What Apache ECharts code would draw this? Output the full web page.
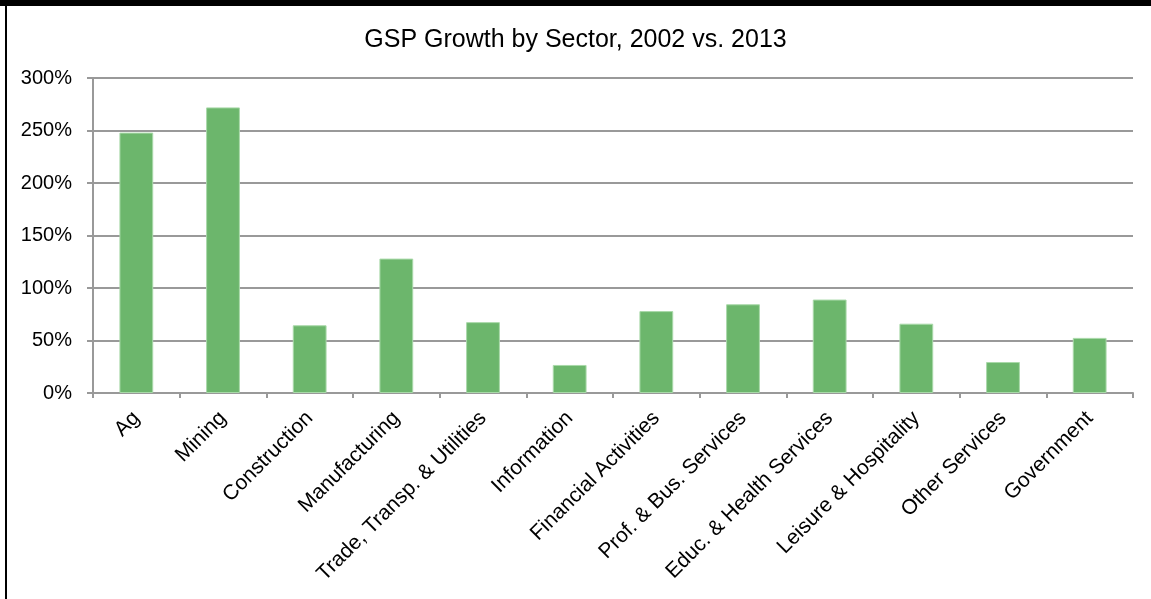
<!DOCTYPE html>
<html>
<head>
<meta charset="utf-8">
<script src="https://cdn.jsdelivr.net/npm/echarts@6/dist/echarts.min.js"></script>
<style>
  html, body { margin: 0; padding: 0; background: #fff; }
  #chart { width: 1151px; height: 599px; }
</style>
</head>
<body>
<div id="chart"></div>
<script>
const title = 'GSP Growth by Sector, 2002 vs. 2013';
const categories = ['Ag', 'Mining', 'Construction', 'Manufacturing', 'Trade, Transp. & Utilities',
  'Information', 'Financial Activities', 'Prof. & Bus. Services', 'Educ. & Health Services',
  'Leisure & Hospitality', 'Other Services', 'Government'];
const growthPct = [248, 272, 64.5, 128, 67.5, 26.7, 78, 84.5, 89, 66, 29.5, 52.5];
const yTicks = [0, 50, 100, 150, 200, 250, 300];

const chart = echarts.init(document.getElementById('chart'), null, { renderer: 'canvas' });
chart.setOption({
  animation: false,
  backgroundColor: '#ffffff',
  title: {
    text: title,
    left: 'center',
    top: 23,
    textStyle: { fontFamily: 'Liberation Sans', fontSize: 25, fontWeight: 'normal', color: '#000' }
  },
  graphic: [
    { type: 'rect', shape: { x: 0, y: 0, width: 1151, height: 6 }, style: { fill: '#000' } },
    { type: 'rect', shape: { x: 5, y: 0, width: 2, height: 599 }, style: { fill: '#000' } }
  ],
  grid: { left: 93, right: 18, top: 78, bottom: 206, containLabel: false },
  xAxis: {
    type: 'category',
    data: categories,
    axisLine: { lineStyle: { color: '#999', width: 2 } },
    axisTick: { show: true, alignWithLabel: false, length: 5, lineStyle: { color: '#999', width: 2 } },
    axisLabel: { rotate: 45, interval: 0, margin: 22, fontFamily: 'Liberation Sans', fontSize: 21, color: '#000' }
  },
  yAxis: {
    type: 'value',
    min: yTicks[0],
    max: yTicks[yTicks.length - 1],
    interval: 50,
    axisLine: { show: true, lineStyle: { color: '#999', width: 2 } },
    axisTick: { show: true, length: 6, lineStyle: { color: '#999', width: 2 } },
    axisLabel: { formatter: v => v + '%', margin: 21, fontFamily: 'Liberation Sans', fontSize: 20, color: '#000' },
    splitLine: { show: true, lineStyle: { color: '#999', width: 2 } }
  },
  series: [{
    type: 'bar',
    data: growthPct,
    barWidth: '39%',
    itemStyle: { color: '#6cb66c', borderColor: '#a9d9a9', borderWidth: 1 }
  }]
});
</script>
</body>
</html>
